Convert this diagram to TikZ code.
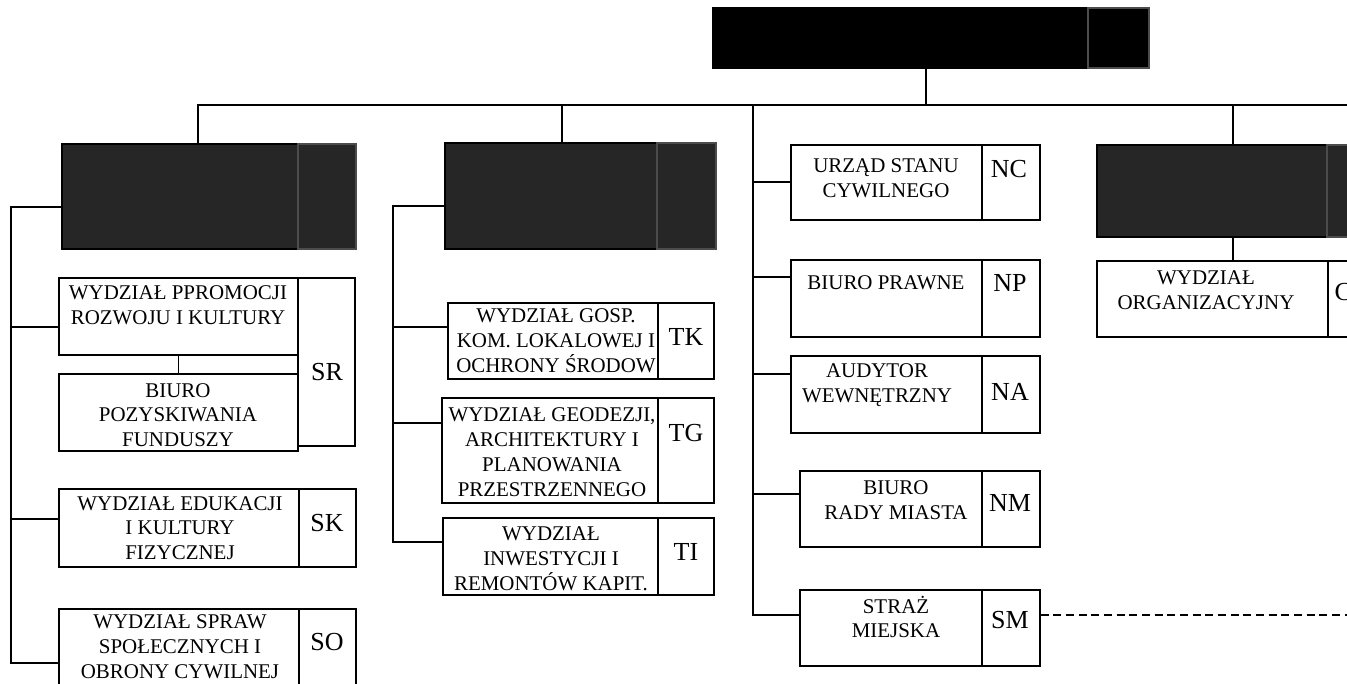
\documentclass[tikz,border=0pt]{standalone}
\usepackage{fontspec}
\setmainfont{Liberation Serif}
\usetikzlibrary{fit}

\begin{document}
\begin{tikzpicture}[
        x=0.75pt, y=-0.75pt,
        line width=1.1pt,
        every node/.style={align=center, anchor=center},
        unit/.style={rectangle, draw=black, fill=white, inner sep=0pt},
        dark/.style={rectangle, draw=black, fill=black!85, inner sep=0pt},
        darkkod/.style={rectangle, draw=black!70, fill=black!85, inner sep=0pt},
        lbl/.style={inner sep=0pt, font=\fontsize{15.7}{18.6}\selectfont},
        kod/.style={inner sep=0pt, font=\fontsize{19.5}{22}\selectfont},
        link/.style={draw=black},
        dozor/.style={draw=black, dash pattern=on 6pt off 3.5pt}
    ]
    \useasboundingbox (0,0) rectangle (1347,683);

    \node[dark, fill=black, fit={(713,8) (1088,68)}] (prez) {};
    \node[darkkod, fill=black, fit={(1088,8) (1149,68)}] (prezkod) {};

    \coordinate (j0) at (926,105);
    \coordinate (jS) at (198,105);
    \coordinate (jT) at (562,105);
    \coordinate (jN) at (753,105);
    \coordinate (jO) at (1233,105);
    \coordinate (busend) at (1347,105);

    \draw[link] (j0 |- prez.south) -- (j0);

    \node[dark, fit={(62,144) (298,249)}] (pionS) {};
    \node[darkkod, fit={(298,144) (356,249)}] (pionSkod) {};
    \draw[link] (jS |- pionS.north) -- (jS) -- (busend);

    \node[unit, fit={(59,278) (298,355)}] (wsr) {};
    \node[lbl] (wsrtxt) at (178,305) {WYDZIAŁ PPROMOCJI\\ROZWOJU I KULTURY};
    \node[unit, fit={(59,374) (298,451)}] (bpf) {};
    \node[lbl] (bpftxt) at (178,415) {BIURO\\POZYSKIWANIA\\FUNDUSZY};
    \node[unit, fit={(298,278) (355,446)}] (wsrkod) {};
    \node[kod] (wsrkodtxt) at (327,372) {SR};
    \draw[link] (wsr.south) -- (bpf.north);

    \node[unit, fit={(59,489) (299,567)}] (wsk) {};
    \node[lbl] (wsktxt) at (180,528) {WYDZIAŁ EDUKACJI\\I KULTURY\\FIZYCZNEJ};
    \node[unit, fit={(299,489) (356,567)}] (wskkod) {};
    \node[kod] (wskkodtxt) at (327,523) {SK};

    \node[unit, fit={(59,609) (299,700)}] (wso) {};
    \node[lbl] (wsotxt) at (180,647) {WYDZIAŁ SPRAW\\SPOŁECZNYCH I\\OBRONY CYWILNEJ};
    \node[unit, fit={(299,609) (356,700)}] (wsokod) {};
    \node[kod] (wsokodtxt) at (327,642) {SO};

    \coordinate (tS1) at (11,207);
    \coordinate (tS2) at (11,327);
    \coordinate (tS3) at (11,519);
    \coordinate (tS4) at (11,663);
    \draw[link] (tS1 -| pionS.west) -- (tS1) -- (tS4) -- (tS4 -| wso.west);
    \draw[link] (tS2) -- (tS2 -| wsr.west);
    \draw[link] (tS3) -- (tS3 -| wsk.west);

    \node[dark, fit={(445,143) (657,249)}] (pionT) {};
    \node[darkkod, fit={(657,143) (716,249)}] (pionTkod) {};
    \draw[link] (jT) -- (jT |- pionT.north);

    \node[unit, fit={(448,303) (658,379)}] (wtk) {};
    \node[lbl] (wtktxt) at (556,341) {WYDZIAŁ GOSP.\\KOM. LOKALOWEJ I\\OCHRONY ŚRODOW};
    \node[unit, fit={(658,303) (714,379)}] (wtkkod) {};
    \node[kod] (wtkkodtxt) at (686,337) {TK};

    \node[unit, fit={(442,398) (658,503)}] (wtg) {};
    \node[lbl] (wtgtxt) at (552,452) {WYDZIAŁ GEODEZJI,\\ARCHITEKTURY I\\PLANOWANIA\\PRZESTRZENNEGO};
    \node[unit, fit={(658,398) (714,503)}] (wtgkod) {};
    \node[kod] (wtgkodtxt) at (686,433) {TG};

    \node[unit, fit={(443,518) (658,595)}] (wti) {};
    \node[lbl] (wtitxt) at (551,559) {WYDZIAŁ\\INWESTYCJI I\\REMONTÓW KAPIT.};
    \node[unit, fit={(658,518) (714,595)}] (wtikod) {};
    \node[kod] (wtikodtxt) at (686,552) {TI};

    \coordinate (tT1) at (393,206);
    \coordinate (tT2) at (393,327);
    \coordinate (tT3) at (393,423);
    \coordinate (tT4) at (393,542);
    \draw[link] (tT1 -| pionT.west) -- (tT1) -- (tT4) -- (tT4 -| wti.west);
    \draw[link] (tT2) -- (tT2 -| wtk.west);
    \draw[link] (tT3) -- (tT3 -| wtg.west);

    \node[unit, fit={(791,145) (982,220)}] (usc) {};
    \node[lbl] (usctxt) at (886,178) {URZĄD STANU\\CYWILNEGO};
    \node[unit, fit={(982,145) (1040,220)}] (usckod) {};
    \node[kod] (usckodtxt) at (1009,169) {NC};

    \node[unit, fit={(791,260) (982,337)}] (bpr) {};
    \node[lbl] (bprtxt) at (886,283) {BIURO PRAWNE};
    \node[unit, fit={(982,260) (1040,337)}] (bprkod) {};
    \node[kod] (bprkodtxt) at (1010,283) {NP};

    \node[unit, fit={(791,356) (982,433)}] (aud) {};
    \node[lbl] (audtxt) at (877,385) {AUDYTOR\\WEWNĘTRZNY};
    \node[unit, fit={(982,356) (1040,433)}] (audkod) {};
    \node[kod] (audkodtxt) at (1010,392) {NA};

    \node[unit, fit={(800,471) (982,547)}] (brm) {};
    \node[lbl] (brmtxt) at (896,500) {BIURO\\RADY MIASTA};
    \node[unit, fit={(982,471) (1040,547)}] (brmkod) {};
    \node[kod] (brmkodtxt) at (1010,503) {NM};

    \node[unit, fit={(800,590) (982,666)}] (sm) {};
    \node[lbl] (smtxt) at (896,617) {STRAŻ\\MIEJSKA};
    \node[unit, fit={(982,590) (1040,666)}] (smkod) {};
    \node[kod] (smkodtxt) at (1010,620) {SM};

    \coordinate (bN1) at (753,182);
    \coordinate (bN2) at (753,277);
    \coordinate (bN3) at (753,374);
    \coordinate (bN4) at (753,494);
    \coordinate (bN5) at (753,615);
    \draw[link] (jN) -- (bN5) -- (bN5 -| sm.west);
    \draw[link] (bN1) -- (bN1 -| usc.west);
    \draw[link] (bN2) -- (bN2 -| bpr.west);
    \draw[link] (bN3) -- (bN3 -| aud.west);
    \draw[link] (bN4) -- (bN4 -| brm.west);

    \coordinate (dozorend) at (1347,615);
    \draw[dozor] (dozorend -| smkod.east) -- (dozorend);

    \node[dark, fit={(1097,145) (1327,237)}] (pionO) {};
    \node[darkkod, fit={(1327,145) (1375,237)}] (pionOkod) {};
    \draw[link] (jO) -- (jO |- pionO.north);

    \node[unit, fit={(1097,261) (1328,337)}] (wor) {};
    \node[lbl] (wortxt) at (1206,290) {WYDZIAŁ\\ORGANIZACYJNY};
    \node[unit, fit={(1328,261) (1380,337)}] (workod) {};
    \node[kod, anchor=west] (workodtxt) at (1334,292) {C};
    \draw[link] (jO |- pionO.south) -- (jO |- wor.north);
\end{tikzpicture}
\end{document}
